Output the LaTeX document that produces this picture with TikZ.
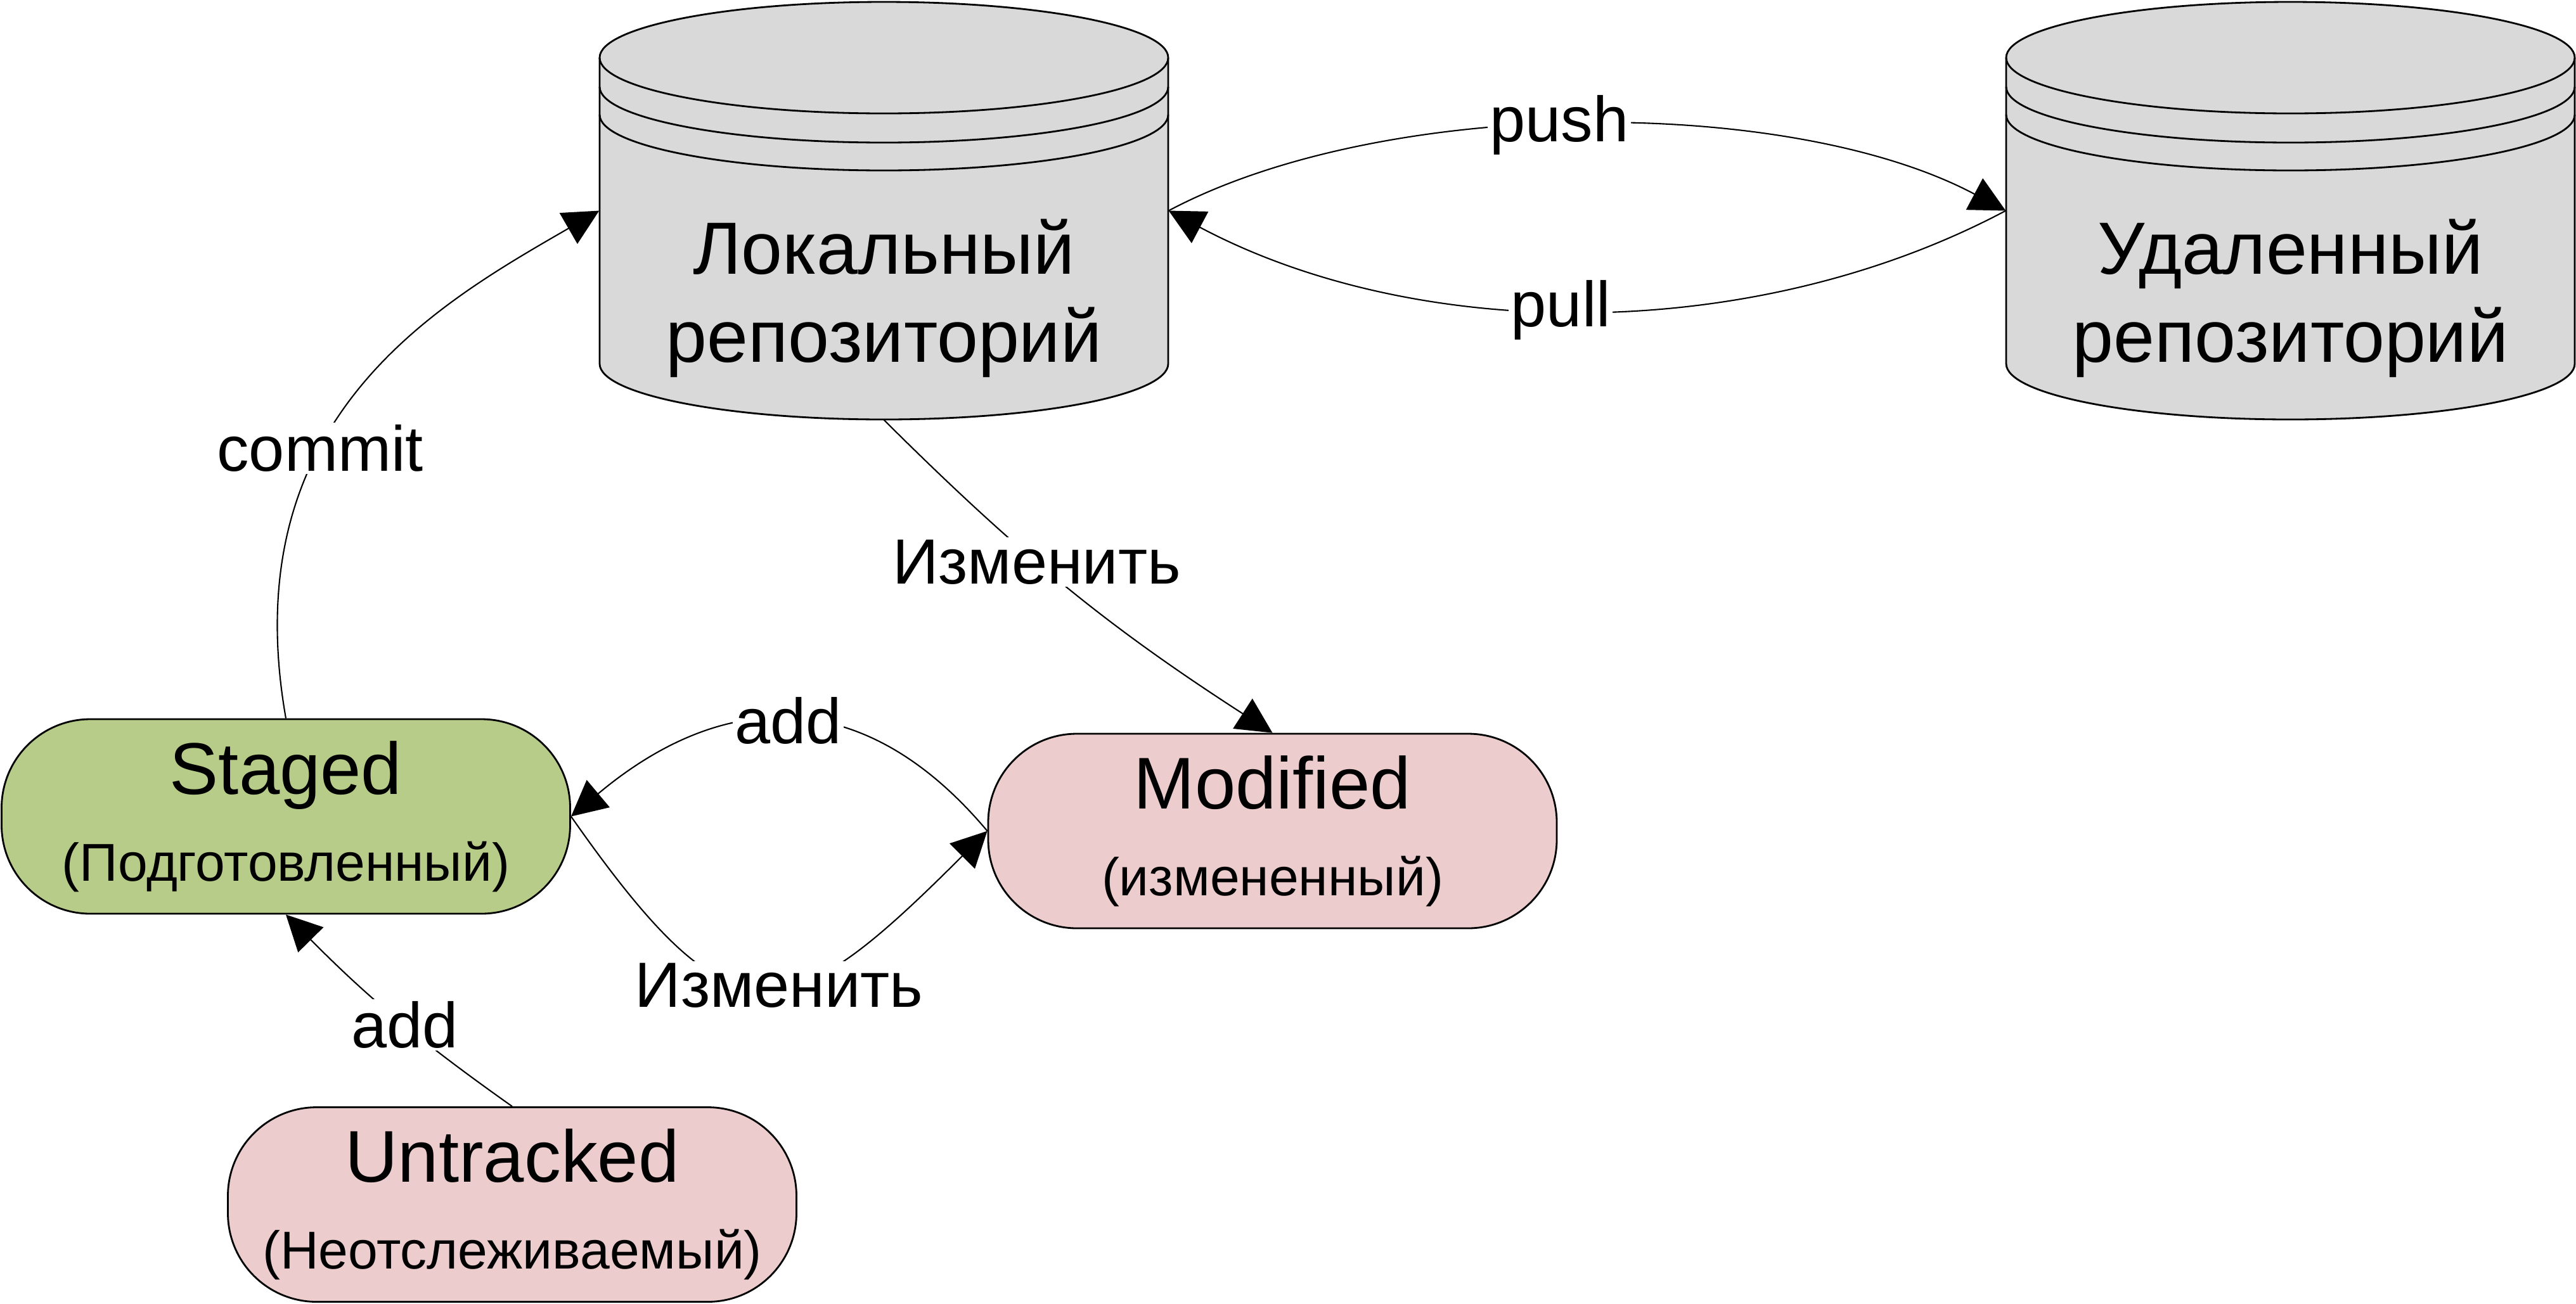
\documentclass[tikz,border=0pt]{standalone}
\usepackage{fontspec}
\setmainfont{Liberation Sans}
\usetikzlibrary{arrows.meta}

\definecolor{dbgray}{RGB}{217,217,217}
\definecolor{stagedgreen}{RGB}{183,204,136}
\definecolor{modpink}{RGB}{236,204,204}

\begin{document}
\begin{tikzpicture}[
    >={Triangle[length=0.56cm,width=0.56cm]},
    db/.style={rectangle, minimum width=8.97cm, minimum height=6.59cm, inner sep=0pt},
    dbtext/.style={align=center, font=\fontsize{33.2}{39.5}\selectfont},
    dbline/.style={line width=0.8pt},
    state/.style={rectangle, draw, line width=0.8pt, rounded corners=1.4cm, minimum width=8.97cm, minimum height=3.07cm, align=center, font=\fontsize{32.9}{39}\selectfont},
    lbl/.style={fill=white, inner sep=1pt, font=\fontsize{28.7}{34}\selectfont},
    conn/.style={->, line width=0.6pt}
]
\useasboundingbox (0,0) rectangle (40.64,-20.57);

% local repository
\draw[dbline, fill=dbgray] (9.46,-0.91) -- (9.46,-5.74) arc[start angle=180, end angle=360, x radius=4.485, y radius=0.88] -- (18.43,-0.91) arc[start angle=0, end angle=180, x radius=4.485, y radius=0.88] -- cycle;
\draw[dbline] (9.46,-0.91) arc[start angle=180, end angle=360, x radius=4.485, y radius=0.88];
\draw[dbline] (9.46,-1.37) arc[start angle=180, end angle=360, x radius=4.485, y radius=0.88];
\draw[dbline] (9.46,-1.81) arc[start angle=180, end angle=360, x radius=4.485, y radius=0.88];

% remote repository
\draw[dbline, fill=dbgray] (31.65,-0.91) -- (31.65,-5.74) arc[start angle=180, end angle=360, x radius=4.485, y radius=0.88] -- (40.62,-0.91) arc[start angle=0, end angle=180, x radius=4.485, y radius=0.88] -- cycle;
\draw[dbline] (31.65,-0.91) arc[start angle=180, end angle=360, x radius=4.485, y radius=0.88];
\draw[dbline] (31.65,-1.37) arc[start angle=180, end angle=360, x radius=4.485, y radius=0.88];
\draw[dbline] (31.65,-1.81) arc[start angle=180, end angle=360, x radius=4.485, y radius=0.88];

\node[db] (local) at (13.945,-3.325) {};
\node[db] (remote) at (36.135,-3.325) {};
\node[dbtext] (localtxt) at (13.945,-4.71) {Локальный\\репозиторий};
\node[dbtext] (remotetxt) at (36.135,-4.71) {Удаленный\\репозиторий};

\node[state, fill=stagedgreen] (staged) at (4.51,-12.885) {Staged\\{\fontsize{23.9}{39}\selectfont (Подготовленный)}};
\node[state, fill=modpink] (modified) at (20.075,-13.115) {Modified\\{\fontsize{23.9}{39}\selectfont (измененный)}};
\node[state, fill=modpink] (untracked) at (8.08,-19.01) {Untracked\\{\fontsize{23.9}{39}\selectfont (Неотслеживаемый)}};

\draw[conn] (local.east) to[bend left=28, looseness=0.75] node[lbl, pos=0.47] (push) {push} (remote.west);
\draw[conn] (remote.west) to[bend left=28, looseness=0.87] node[lbl, pos=0.53] (pull) {pull} (local.east);
\draw[conn] (staged.north) to[out=100, in=210, out looseness=1.3, in looseness=0.81] node[lbl, pos=0.38] (commit) {commit} (local.west);
\draw[conn] (local.south) to[bend right=6] node[lbl, pos=0.41] (edit1) {Изменить} (modified.north);
\draw[conn] (modified.west) to[out=130, in=40, looseness=1.2] node[lbl] (add1) {add} (staged.east);
\draw[conn] (staged.east) to[out=-55, in=-135, looseness=1.75] node[lbl, pos=0.54] (edit2) {Изменить} (modified.west);
\draw[conn] (untracked.north) to[bend left=5] node[lbl, pos=0.45] (add2) {add} (staged.south);
\end{tikzpicture}
\end{document}
